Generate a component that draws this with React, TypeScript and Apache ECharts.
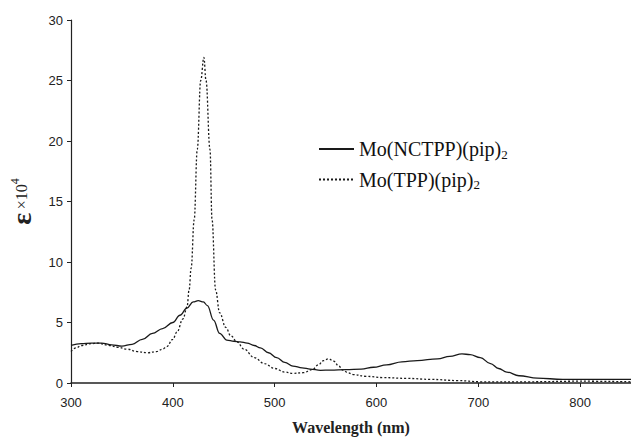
import React, { useEffect, useRef } from "react";
import * as echarts from "echarts";

const xTicks = [300, 400, 500, 600, 700, 800];
const yTicks = [0, 5, 10, 15, 20, 25, 30];

const nmNCTPP = [300, 310, 320, 330, 340, 350, 360, 370, 380, 390, 400, 407, 414, 420, 425, 430, 434, 440, 446, 453, 460, 466, 473, 480, 486, 494, 502, 510, 518, 527, 535, 545, 555, 570, 585, 597, 610, 625, 640, 660, 672, 684, 692, 702, 712, 720, 728, 740, 758, 783, 800, 820, 850];
const epsNCTPP = [3.1, 3.25, 3.3, 3.3, 3.15, 3.05, 3.2, 3.6, 4.1, 4.5, 5.0, 5.6, 6.2, 6.7, 6.8, 6.7, 6.4, 5.2, 4.1, 3.55, 3.45, 3.4, 3.3, 3.1, 2.9, 2.5, 2.1, 1.7, 1.4, 1.25, 1.15, 1.05, 1.07, 1.1, 1.15, 1.3, 1.5, 1.75, 1.85, 2.0, 2.2, 2.4, 2.35, 2.1, 1.6, 1.2, 0.9, 0.6, 0.4, 0.3, 0.3, 0.3, 0.3];

const nmTPP = [300, 305, 310, 320, 326, 338, 346, 355, 365, 375, 384, 390, 394, 400, 404, 410, 414, 416, 418, 421, 424, 427.4, 430.5, 432.6, 436.5, 438.5, 442, 446, 452, 457, 463, 470, 480, 490, 500, 510, 518, 528, 537, 543, 548, 553, 558, 563, 567, 572, 577, 590, 606, 630, 653, 680, 702, 750, 800, 850];
const epsTPP = [2.6, 2.9, 3.1, 3.25, 3.3, 3.1, 2.95, 2.8, 2.6, 2.5, 2.6, 2.8, 3.0, 3.6, 4.2, 5.3, 6.3, 7.7, 9.5, 13.5, 19.3, 25, 26.9, 25, 19.3, 13.5, 7.7, 5.8, 4.6, 3.9, 3.4, 2.8, 2.1, 1.6, 1.2, 0.9, 0.8, 0.85, 1.1, 1.5, 1.85, 2.0, 1.8, 1.4, 1.07, 0.85, 0.7, 0.55, 0.45, 0.38, 0.3, 0.2, 0.1, 0.1, 0.15, 0.1];

const nameNCTPP = "Mo(NCTPP)(pip)2";
const nameTPP = "Mo(TPP)(pip)2";

export default function App() {
  const ref = useRef<HTMLDivElement>(null);
  useEffect(() => {
    if (!ref.current) return;
    const chart = echarts.init(ref.current, null, { renderer: "svg" });
    const serif = "Liberation Serif";
    const sans = "Liberation Sans";
    chart.setOption({
      animation: false,
      backgroundColor: "#fff",
      grid: { left: 71, right: 0, top: 20, bottom: 55, containLabel: false, outerBoundsMode: "none" },
      legend: {
        orient: "vertical",
        left: 313,
        top: 134,
        itemWidth: 35,
        itemHeight: 14,
        itemGap: 9,
        itemStyle: { opacity: 0 },
        data: [nameNCTPP, nameTPP],
        formatter: (n: string) => `{a|${n.slice(0, -1)}}{b|${n.slice(-1)}}`,
        textStyle: {
          fontFamily: serif,
          fontSize: 20,
          color: "#111",
          rich: {
            a: { fontFamily: serif, fontSize: 20, color: "#111" },
            b: { fontFamily: serif, fontSize: 13, color: "#111", padding: [10, 0, 0, 0] },
          },
        },
      },
      xAxis: {
        type: "value",
        min: 300,
        max: 850,
        interval: 100,
        name: "Wavelength (nm)",
        nameLocation: "middle",
        nameGap: 36,
        nameTextStyle: { fontFamily: serif, fontWeight: "bold", fontSize: 16, color: "#222" },
        splitLine: { show: false },
        axisLine: { lineStyle: { color: "#222", width: 1.5 } },
        axisTick: { show: true, length: 4, lineStyle: { color: "#222" }, customValues: xTicks },
        axisLabel: {
          fontFamily: sans,
          fontSize: 13,
          color: "#222",
          margin: 13,
          customValues: xTicks,
          showMaxLabel: true,
        },
      },
      yAxis: {
        type: "value",
        min: 0,
        max: 30,
        interval: 5,
        name: "{e|ε} {x|×10}{s|4}",
        nameLocation: "middle",
        nameRotate: 90,
        nameGap: 36,
        nameTextStyle: {
          rich: {
            e: { fontFamily: serif, fontSize: 28, fontWeight: "bold", color: "#222" },
            x: { fontFamily: serif, fontSize: 16, color: "#222" },
            s: { fontFamily: serif, fontSize: 12, color: "#222", padding: [0, 0, 12, 0] },
          },
        },
        splitLine: { show: false },
        axisLine: { show: true, lineStyle: { color: "#222", width: 1.2 } },
        axisTick: { show: true, length: 4, lineStyle: { color: "#222" } },
        axisLabel: {
          fontFamily: sans,
          fontSize: 13,
          color: "#222",
          margin: 8,
          customValues: yTicks,
        },
      },
      series: [
        {
          name: nameNCTPP,
          type: "line",
          symbol: "none",
          smooth: 0.4,
          smoothMonotone: "x",
          lineStyle: { color: "#1a1a1a", width: 1.3, type: "solid" },
          itemStyle: { color: "#1a1a1a" },
          data: nmNCTPP.map((x, i) => [x, epsNCTPP[i]]),
        },
        {
          name: nameTPP,
          type: "line",
          symbol: "none",
          smooth: 0.4,
          smoothMonotone: "x",
          lineStyle: { color: "#1a1a1a", width: 1.3, type: [2, 2] },
          itemStyle: { color: "#1a1a1a" },
          data: nmTPP.map((x, i) => [x, epsTPP[i]]),
        },
      ],
    });
    return () => chart.dispose();
  }, []);
  return (
    <div
      ref={ref}
      style={{ position: "fixed", left: 0, top: 0, width: 631, height: 438 }}
    />
  );
}
